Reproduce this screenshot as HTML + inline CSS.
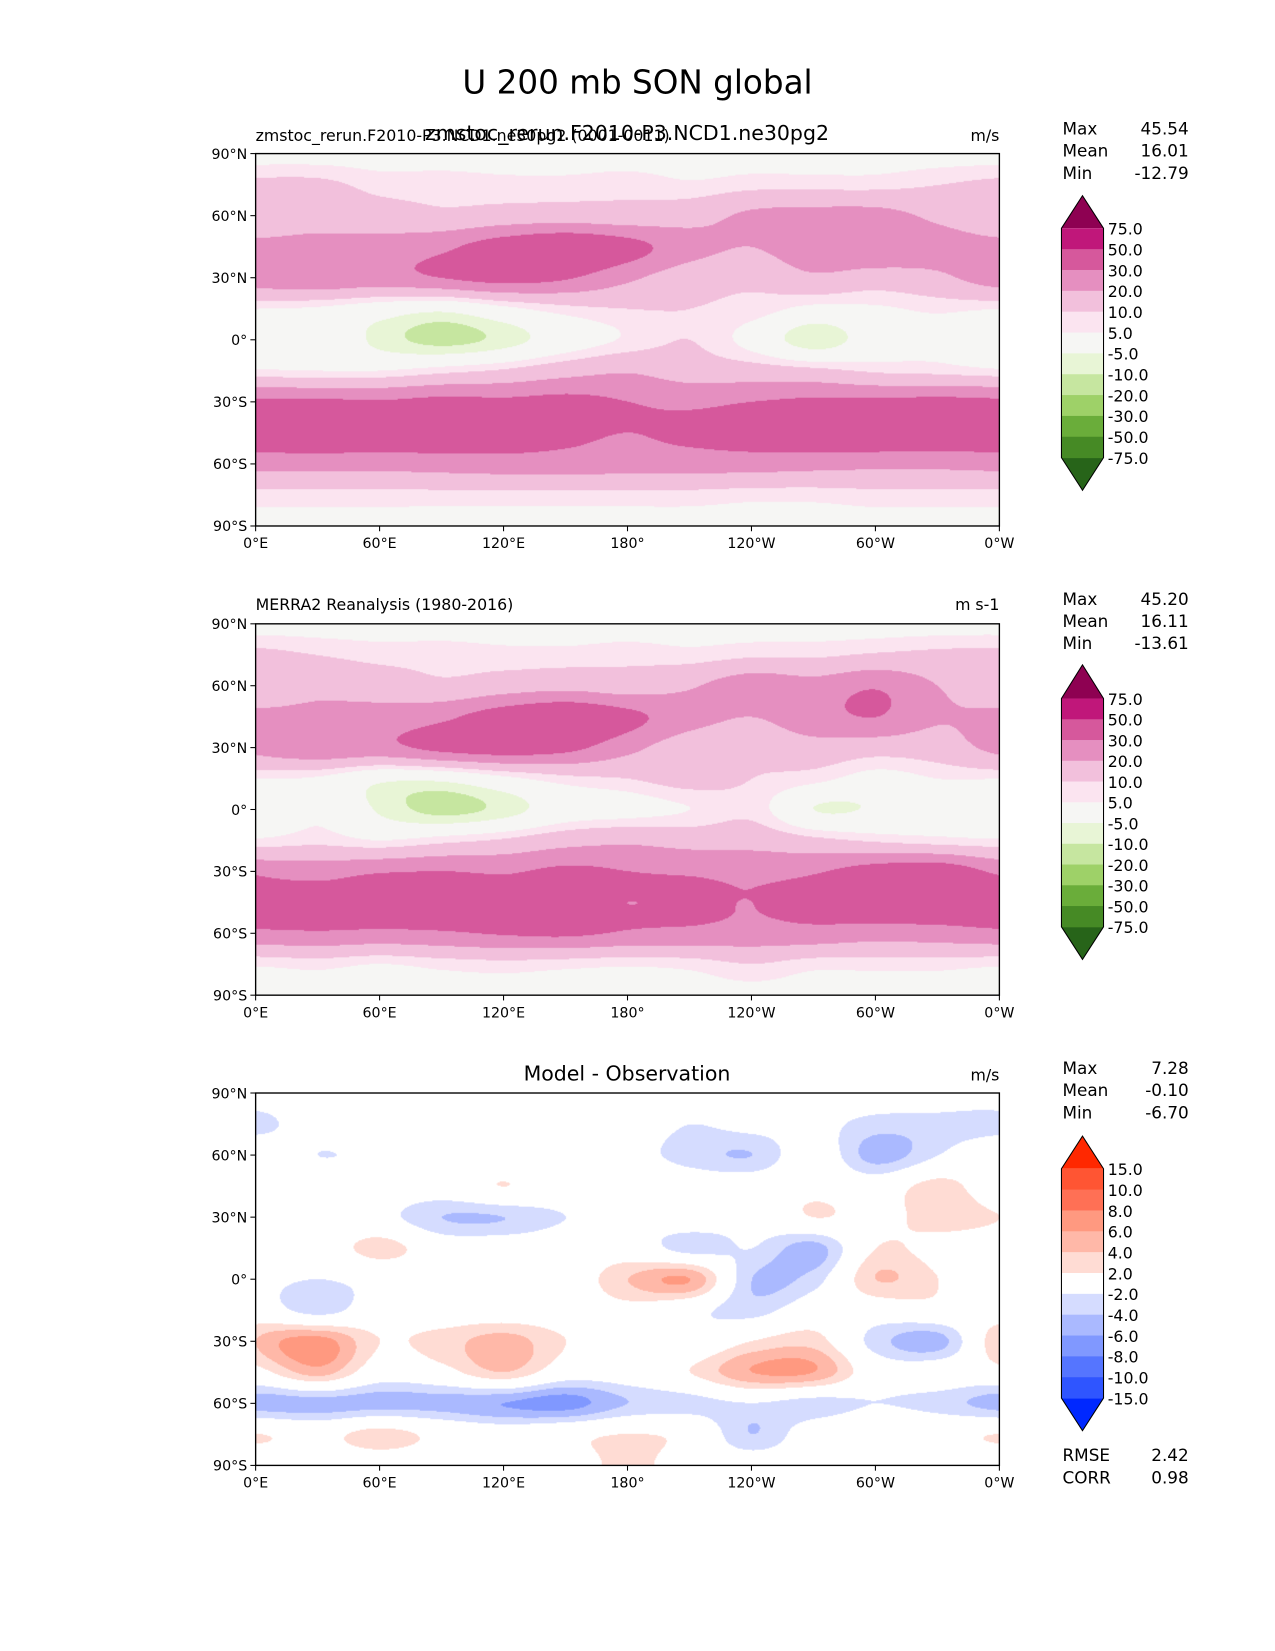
<!DOCTYPE html>
<html><head><meta charset="utf-8">
<style>
html,body{margin:0;padding:0;background:#fff;}
body{width:1275px;height:1650px;overflow:hidden;}
#wrap{position:absolute;left:0;top:0;width:1212px;height:1569px;transform:scale(1.05198);transform-origin:0 0;font-family:"DejaVu Sans","Liberation Sans",sans-serif;}
svg text{font-family:"DejaVu Sans","Liberation Sans",sans-serif;}
</style></head><body>
<div id="wrap">
<canvas id="c1" width="707" height="354" style="position:absolute;left:243px;top:146px"></canvas>
<canvas id="c2" width="707" height="353" style="position:absolute;left:243px;top:593px"></canvas>
<canvas id="c3" width="707" height="354" style="position:absolute;left:243px;top:1039px"></canvas>
<svg id="ov" width="1212" height="1569" style="position:absolute;left:0;top:0"></svg>
</div>
<script>
// ---- data (lat rows 90N..90S step 15, lon cols 0..330 step 30) ----
const lats=[90,75,60,45,30,15,0,-15,-30,-45,-60,-75,-90];
const lons=[0,30,60,90,120,150,180,210,240,270,300,330];
const modelU=[
[2,2,2,2,2,2,2,2,2,2,2,2],
[12,12,8,8,7,7,8,6,8,8,8,10],
[15,15,14,12,14,15,14,16,22,24,24,18],
[22,24,24,28,36,40,34,24,20,27,29,24],
[25,28,26,30,34,31,22,14,12,18,15,18],
[5,4,0,-3,3,8,10,10,8,3,4,6],
[-4,2,-7,-12,-8,0,6,10,2,-9,0,3],
[6,5,5,8,11,16,19,15,14,12,9,8],
[32,32,31,33,32,33,30,28,30,32,32,33],
[38,39,38,37,35,32,30,32,35,38,39,38],
[24,24,24,25,26,26,25,25,25,24,23,23],
[8,8,8,8,8,8,8,8,7,7,8,8],
[3,3,3,3,3,3,3,3,3,3,3,3]];
const obsU=[
[2,2,2,2,2,2,2,2,2,2,2,2],
[12,10,8,8,7,7,8,7,9,9,11,12],
[14,17,15,12,15,17,15,19,26,24,29,20],
[22,23,24,28,36,40,33,24,20,26,30,21],
[23,28,27,33,36,33,23,14,13,16,14,15],
[5,4,-3,-3,3,8,10,13,10,7,2,5],
[-3,4,-6,-12,-8,0,2,5,8,-5,-4,1],
[6,8,5,8,11,16,18,16,16,12,9,7],
[28,26,29,30,29,32,30,29,28,29,35,37],
[37,35,38,36,33,32,30,31,30,33,39,38],
[28,29,28,29,31,32,29,28,27,27,25,26],
[6,7,5,7,8,7,6,7,10,7,7,7],
[3,3,3,3,3,3,3,3,3,3,3,3]];
const diffU=[
[0,0,0,0,0,0,0,0,0,0,0,0],
[-3,0,0,-2,0,0,0,-2,-1,-1,-3,-3],
[1,-2,-1,0,-1,-2,-1,-3,-4,0,-5,-2],
[0,1,0,0,2,0,1,0,0,1,0,3],
[2,0,-1,-4,-4,-2,-1,0,-1,2,1,3],
[0,0,3,0,0,0,0,-3,-2,-5,2,1],
[-1,-2,-1,0,0,0,4,6,-4,-3,4,2],
[0,-3,0,0,0,0,1,-1,-3,0,0,1],
[4,7,2,3,5,2,0,-1,2,3,-3,-5],
[1,5,0,1,4,0,0,2,6,6,0,0],
[-5,-5,-5,-5,-6,-7,-4,-3,-2,-3,-2,-3],
[2,1,3,1,0,1,2,1,-4,0,1,1],
[0,0,0,0,0,0,3,0,0,0,0,0]];
const levU=[-75,-50,-30,-20,-10,-5,5,10,20,30,50,75];
const colU=["#276419","#468a25","#6aad3a","#9ed168","#c6e6a0","#e8f5d6","#f6f6f4","#fbe4f0","#f2c0dc","#e58fc0","#d6589c","#c0177a","#8e0152"];
const levD=[-15,-10,-8,-6,-4,-2,2,4,6,8,10,15];
const colD=["#0028ff","#2f55ff","#5575ff","#8098ff","#aab9ff","#d5dcff","#ffffff","#ffdcd4","#ffb8a8","#ff9980","#ff7055","#ff5533","#ff2800"];
const statsA=[["Max","45.54"],["Mean","16.01"],["Min","-12.79"]];
const statsB=[["Max","45.20"],["Mean","16.11"],["Min","-13.61"]];
const statsC=[["Max","7.28"],["Mean","-0.10"],["Min","-6.70"]];
const xTicks=["0°E","60°E","120°E","180°","120°W","60°W","0°W"];
const yTicks=["90°N","60°N","30°N","0°","30°S","60°S","90°S"];

function hex(h){return [parseInt(h.substr(1,2),16),parseInt(h.substr(3,2),16),parseInt(h.substr(5,2),16)];}
function cr(p0,p1,p2,p3,t){return 0.5*((2*p1)+(-p0+p2)*t+(2*p0-5*p1+4*p2-p3)*t*t+(-p0+3*p1-3*p2+p3)*t*t*t);}
function sample(g,lat,lon){
  const fi=(90-lat)/15; const i1=Math.min(Math.floor(fi),11); const ty=fi-i1;
  const fj=(((lon%360)+360)%360)/30; const j1=Math.floor(fj)%12; const tx=fj-Math.floor(fj);
  const rows=[];
  for(let di=-1;di<=2;di++){const i=Math.max(0,Math.min(12,i1+di));const r=g[i];
    rows.push(cr(r[(j1+11)%12],r[j1],r[(j1+1)%12],r[(j1+2)%12],tx));}
  return cr(rows[0],rows[1],rows[2],rows[3],ty);
}
function draw(id,g,lev,col){
  const cv=document.getElementById(id),ctx=cv.getContext('2d'),W=cv.width,H=cv.height;
  const img=ctx.createImageData(W,H);const rgb=col.map(hex);
  for(let y=0;y<H;y++){const lat=90-180*y/(H-1);
    for(let x=0;x<W;x++){const lon=360*x/W;const v=sample(g,lat,lon);
      let k=0;while(k<lev.length&&v>=lev[k])k++;
      const c=rgb[k],p=(y*W+x)*4;img.data[p]=c[0];img.data[p+1]=c[1];img.data[p+2]=c[2];img.data[p+3]=255;}}
  ctx.putImageData(img,0,0);
}
draw('c1',modelU,levU,colU);draw('c2',obsU,levU,colU);draw('c3',diffU,levD,colD);

const NS='http://www.w3.org/2000/svg',ov=document.getElementById('ov');
function el(t,a,txt){const e=document.createElementNS(NS,t);for(const k in a)e.setAttribute(k,a[k]);if(txt!==undefined)e.textContent=txt;ov.appendChild(e);return e;}
function T(x,y,s,txt,anchor,size,name){const e=el('text',{x:x,y:y,'font-size':size,'text-anchor':anchor||'start',fill:'#000'},txt);

return e;}
T(606,89,31,'U 200 mb SON global','middle',31,'main-title');
function axes(top,h,pi){
  const L=243,R=950,B=top+h;
  const f=el('rect',{x:L,y:top,width:R-L,height:h,fill:'none',stroke:'#000','stroke-width':1.3});
  
  
  xTicks.forEach((t,i)=>{const x=L+(R-L)*i/6;el('line',{x1:x,y1:B,x2:x,y2:B+5,stroke:'#000'});T(x,B+21,0,t,'middle',13.5,'x-tick-label');});
  yTicks.forEach((t,i)=>{const y=top+h*i/6;el('line',{x1:L-5,y1:y,x2:L,y2:y,stroke:'#000'});T(L-8,y+5,0,t,'end',13.5,'y-tick-label');});
}
axes(146,354,1);axes(593,353,2);axes(1039,354,3);
T(243,134,0,'zmstoc_rerun.F2010-P3.NCD1.ne30pg2 (0001-0011)','start',15,'panel1-left-title');
T(596,133,0,'zmstoc_rerun.F2010-P3.NCD1.ne30pg2','middle',19.5,'panel1-center-title');
T(950,134,0,'m/s','end',15,'panel1-units');
T(243,580,0,'MERRA2 Reanalysis (1980-2016)','start',15,'panel2-left-title');
T(950,580,0,'m s-1','end',15,'panel2-units');
T(596,1027,0,'Model - Observation','middle',19.5,'panel3-center-title');
T(950,1027,0,'m/s','end',15,'panel3-units');
function stats(y0,arr){arr.forEach((s,i)=>{T(1010,y0+21*i,0,s[0],'start',16,'stat-name');T(1130,y0+21*i,0,s[1],'end',16,'stat-value');});}
stats(128,statsA);stats(575,statsB);stats(1021,statsC);
stats(1389,[["RMSE","2.42"],["CORR","0.98"]]);
function cbar(apex,b0,b1,apex2,lev,col,name){
  const L=1009,R=1049,n=lev.length-1,step=(b1-b0)/n;
  el('polygon',{points:`${L},${b0} ${(L+R)/2},${apex} ${R},${b0}`,fill:col[col.length-1]});
  el('polygon',{points:`${L},${b1} ${(L+R)/2},${apex2} ${R},${b1}`,fill:col[0]});
  for(let i=0;i<n;i++){el('rect',{x:L,y:b0+step*i,width:R-L,height:step+0.5,fill:col[col.length-2-i]});}
  const o=el('polygon',{points:`${L},${b0} ${(L+R)/2},${apex} ${R},${b0} ${R},${b1} ${(L+R)/2},${apex2} ${L},${b1}`,fill:'none',stroke:'#000','stroke-width':1});
  
  
  for(let i=0;i<=n;i++){const v=lev[n-i];T(1053,b0+step*i+6,0,v.toFixed(1),'start',15,'colorbar-label');}
}
cbar(186,217,435,466,levU,colU,'colorbar-model');
cbar(632,664,881,912,levU,colU,'colorbar-obs');
cbar(1080,1111,1329,1360,levD,colD,'colorbar-diff');
</script>
</body></html>
